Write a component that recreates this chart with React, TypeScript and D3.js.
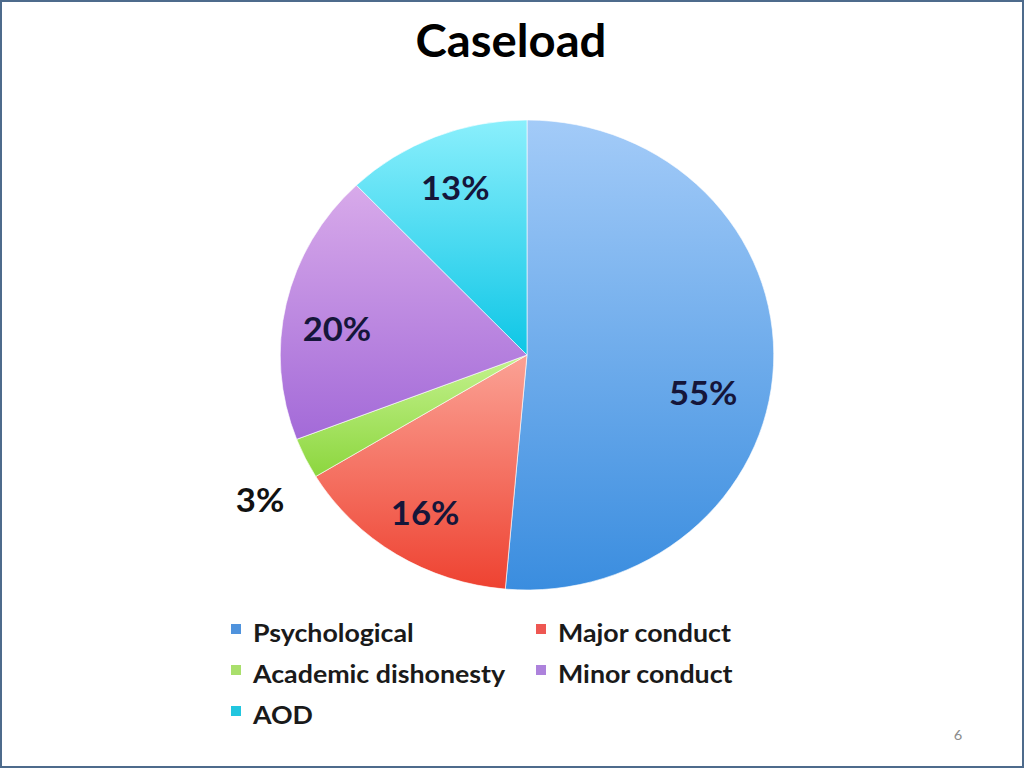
import { useEffect, useRef } from 'react';
import * as d3 from 'd3';

const categories = ['Psychological', 'Major conduct', 'Academic dishonesty', 'Minor conduct', 'AOD'];
const values = [55, 16, 3, 20, 13];
const labels = ['55%', '16%', '3%', '20%', '13%'];

export default function App() {
  const svgRef = useRef<SVGSVGElement>(null);

  useEffect(() => {
    if (!svgRef.current) return;
    const width = 1024;
    const height = 768;
    const cx = 527;
    const cy = 355;
    const radius = 235;
    const sx = 1.05; // the whole slide is a touch stretched horizontally

    const svg = d3.select(svgRef.current);
    svg.selectAll('*').remove();
    svg.attr('viewBox', `0 0 ${width} ${height}`);

    // helper: text stretched like the rest of the slide
    const addText = (x: number, y: number, str: string, size: number, opts: any = {}) => {
      svg.append('g')
        .attr('transform', `translate(${x}, ${y}) scale(${sx}, 1)`)
        .append('text')
        .attr('text-anchor', opts.anchor || 'start')
        .attr('dominant-baseline', opts.baseline || 'auto')
        .attr('font-family', 'Lato, sans-serif')
        .attr('font-weight', opts.weight || 700)
        .attr('font-size', size)
        .attr('fill', opts.fill || '#000')
        .text(str);
    };

    // slide background + frame
    svg.append('rect')
      .attr('x', 1).attr('y', 1)
      .attr('width', width - 2).attr('height', height - 2)
      .attr('fill', '#fff')
      .attr('stroke', '#4d6b8c')
      .attr('stroke-width', 2);

    addText(511, 57, 'Caseload', 45, { anchor: 'middle' });

    // slice colours: [top, bottom, legend]
    const palette: Record<string, [string, string, string]> = {
      Psychological: ['#a3cbf8', '#3a8ddf', '#4f93dd'],
      'Major conduct': ['#fba295', '#ee4231', '#ee5752'],
      'Academic dishonesty': ['#c4f28e', '#8cd63e', '#a9df6c'],
      'Minor conduct': ['#d8aaea', '#a36ad8', '#ad82dc'],
      AOD: ['#8aeffc', '#0ec6e6', '#22c6df'],
    };

    const defs = svg.append('defs');
    categories.forEach((c, i) => {
      const grad = defs.append('linearGradient')
        .attr('id', `grad-${i}`)
        .attr('x1', 0).attr('y1', 0)
        .attr('x2', 0).attr('y2', 1);
      grad.append('stop').attr('offset', '0%').attr('stop-color', palette[c][0]);
      grad.append('stop').attr('offset', '100%').attr('stop-color', palette[c][1]);
    });

    const data = categories.map((c, i) => ({ category: c, value: values[i], label: labels[i], index: i }));

    const pie = d3.pie<any>()
      .value((d) => d.value)
      .sort(null);
    const arcs = pie(data);

    const arc = d3.arc<any>().innerRadius(0).outerRadius(radius);

    const g = svg.append('g').attr('transform', `translate(${cx}, ${cy}) scale(${sx}, 1)`);
    g.selectAll('path')
      .data(arcs)
      .enter()
      .append('path')
      .attr('d', arc)
      .attr('fill', (d: any) => `url(#grad-${d.data.index})`)
      .attr('stroke', '#fff')
      .attr('stroke-width', 0.6);

    // data labels ("best fit" placement tweaks per slice)
    const placement: Record<string, { r: number; shift: number }> = {
      Psychological: { r: 0.73, shift: 9.5 },
      'Minor conduct': { r: 0.78, shift: -3.5 },
      'Academic dishonesty': { r: 1.24, shift: -3.2 },
    };
    arcs.forEach((a: any) => {
      const p = placement[a.data.category] || { r: 0.78, shift: 0 };
      const ang = (a.startAngle + a.endAngle) / 2 + (p.shift * Math.PI) / 180;
      const r = radius * p.r;
      addText(cx + Math.sin(ang) * r * sx, cy - Math.cos(ang) * r + 2, a.data.label, 33, {
        anchor: 'middle',
        baseline: 'central',
        fill: a.data.category === 'Academic dishonesty' ? '#111' : '#15163a',
      });
    });

    // legend, two columns
    const legendX = d3.scaleOrdinal<number, number>().domain([0, 1]).range([231, 536]);
    const legendY = d3.scaleLinear().domain([0, 1]).range([632, 673]);
    categories.forEach((c, i) => {
      const x = legendX(i % 2);
      const y = legendY(Math.floor(i / 2));
      svg.append('rect')
        .attr('x', x)
        .attr('y', y - 8)
        .attr('width', 10)
        .attr('height', 10)
        .attr('fill', palette[c][2]);
      addText(x + 22, y, c, 25.5, { baseline: 'central', fill: '#1a1a1a' });
    });

    // slide number
    addText(958, 735, '6', 14, { anchor: 'middle', baseline: 'central', weight: 400, fill: '#8c8c8c' });
  }, []);

  return (
    <svg
      ref={svgRef}
      width={1024}
      height={768}
      style={{ position: 'absolute', left: 0, top: 0, display: 'block' }}
    />
  );
}
